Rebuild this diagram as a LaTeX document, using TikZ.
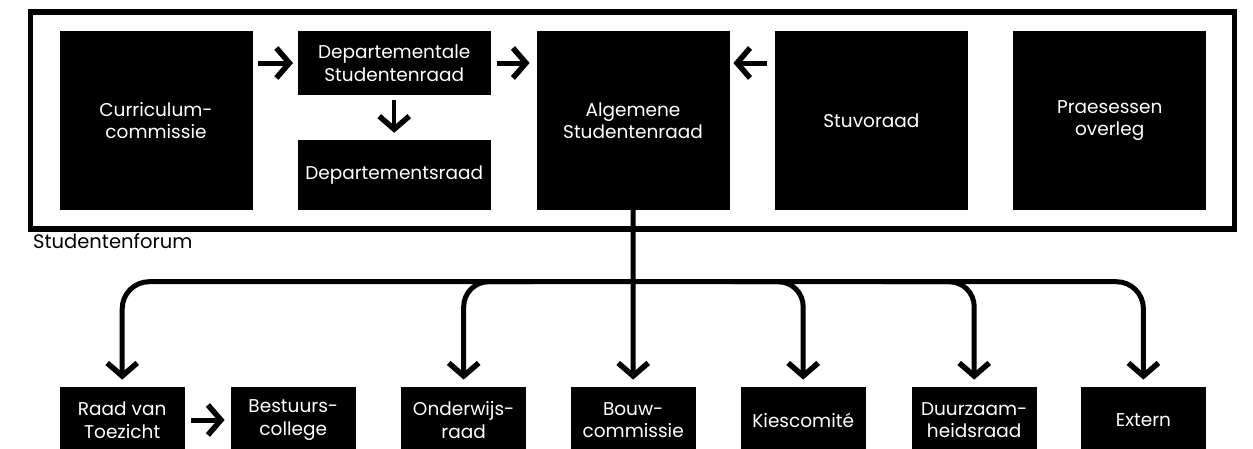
\documentclass[tikz,border=0pt]{standalone}
\usepackage{fontspec}
\setmainfont{Poppins}
\usetikzlibrary{arrows.meta,calc}
\tikzset{
  box/.style={fill=black, text=white, inner sep=0pt, align=center,
    font=\fontsize{18.5}{22.5}\selectfont},
  tbox/.style={box, minimum width=193pt},
  bbox/.style={box, minimum width=125pt, minimum height=67pt},
  arr/.style={line width=5pt, -{Straight Barb[length=13pt,width=30pt,line width=5.5pt]}},
  frame/.style={line width=5.5pt}
}
\begin{document}
\begin{tikzpicture}[x=1pt,y=-1pt]
\useasboundingbox (0,0) rectangle (1253,448);
\clip (0,0) rectangle (1253,448);
% frame
\draw[frame] (30.7,12) rectangle (1234.4,229);
\node[anchor=base west, inner sep=0pt, font=\fontsize{19.5}{22}\selectfont] (forum) at (33,248) {Studentenforum};
% top row
\node[tbox, minimum height=179pt] (curr) at (156,120.5) {\raisebox{-2.5pt}{\parbox{190pt}{\centering Curriculum-\\commissie}}};
\node[tbox, minimum height=64pt] (dsr) at (394.2,63) {Departementale\\Studentenraad};
\node[tbox, minimum height=70pt] (dr) at (394.2,175) {Departementsraad};
\node[tbox, minimum height=179pt] (asr) at (633,120.5) {Algemene\\Studentenraad};
\node[tbox, minimum height=179pt] (stuvo) at (871.4,120.5) {Stuvoraad};
\node[tbox, minimum height=179pt] (praes) at (1109.7,120.5) {Praesessen\\overleg};
% bottom row
\node[bbox] (rvt) at (122.2,420) {Raad van\\Toezicht};
\node[bbox] (bc) at (293.3,420) {Bestuurs-\\college};
\node[bbox] (ow) at (463.7,420) {Onderwijs-\\raad};
\node[bbox] (bouw) at (633.2,420) {Bouw-\\commissie};
\node[bbox] (kies) at (803.2,420) {Kiescomité};
\node[bbox] (duurz) at (974.2,420) {Duurzaam-\\heidsraad};
\node[bbox] (extern) at (1143.4,420) {Extern};
% top arrows
\draw[arr, shorten <=5.6pt, shorten >=4.5pt] (curr.east |- dsr.west) -- (dsr.west);
\draw[arr, shorten <=6.3pt, shorten >=6.7pt] (dsr.east) -- (asr.west |- dsr.east);
\draw[arr, shorten <=7.3pt, shorten >=3.7pt] (stuvo.west |- dsr.east) -- (asr.east |- dsr.east);
\draw[arr, line width=4pt, shorten <=5pt, shorten >=7pt] (dsr.south) -- (dr.north);
\draw[arr, shorten <=5.7pt, shorten >=6pt] (rvt.east) -- (bc.west);
% bus
\coordinate (bus) at (633,281.7);
\draw[arr, shorten >=6.7pt] (asr.south) -- (bouw.north);
\draw[arr, rounded corners=27pt, shorten >=6.7pt] (asr.south |- bus) -| (rvt.north);
\draw[arr, rounded corners=27pt, shorten >=6.7pt] (asr.south |- bus) -| (extern.north);
\draw[arr, rounded corners=25pt, shorten >=6.7pt] ($(bus)+(-100,0)$) -| (ow.north);
\draw[arr, rounded corners=25pt, shorten >=6.7pt] ($(bus)+(100,0)$) -| (kies.north);
\draw[arr, rounded corners=25pt, shorten >=6.7pt] ($(bus)+(250,0)$) -| (duurz.north);
\end{tikzpicture}
\end{document}
